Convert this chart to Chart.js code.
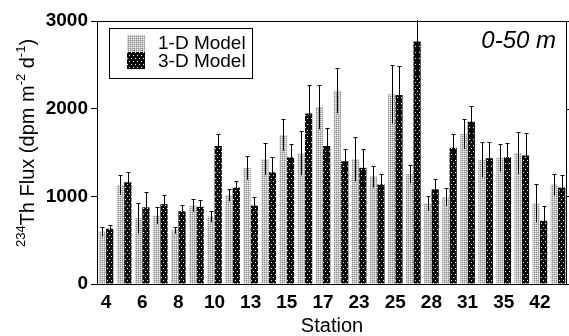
<!DOCTYPE html>
<html>
<head>
<meta charset="utf-8">
<script src="https://cdn.jsdelivr.net/npm/chart.js@4/dist/chart.umd.min.js"></script>
<style>
  html, body { margin: 0; padding: 0; background: #fff; }
  #wrap { width: 569px; height: 336px; }
</style>
</head>
<body>
<div id="wrap"><canvas id="chart" width="569" height="336"></canvas></div>
<script>
// station tick labels (only every other pair is labelled in the figure)
const stationLabels = ['4','','6','','8','','10','','13','','15','','17','','23','','25','','28','','31','','35','','42',''];
const flux1D = [600,1130,750,780,615,895,770,1015,1325,1425,1700,1490,2020,2205,1425,1225,2165,1255,920,990,1710,1415,1440,1495,920,1135];
const err1D  = [55,115,175,95,40,70,65,70,135,180,180,250,255,255,255,125,335,105,85,100,170,200,155,240,215,125];
const flux3D = [630,1160,875,910,830,880,1575,1100,895,1275,1445,1945,1575,1400,1325,1135,2155,2765,1080,1555,1850,1435,1445,1465,720,1100];
const err3D  = [45,120,180,100,75,80,135,80,95,170,150,330,200,145,220,125,330,400,115,155,180,190,160,255,170,145];
const yTicks = [0, 1000, 2000, 3000];
const seriesNames = ['1-D Model', '3-D Model'];
const depthLabel = '0-50 m';

const FONT = "'Liberation Sans', Arial, sans-serif";

// stipple fills like the printed figure
function makePattern(w, h, base, dots){
  const c = document.createElement('canvas');
  c.width = w; c.height = h;
  const g = c.getContext('2d');
  g.fillStyle = base; g.fillRect(0, 0, w, h);
  dots.forEach(d => { g.fillStyle = d[2]; g.fillRect(d[0], d[1], 1, 1); });
  return g.createPattern(c, 'repeat');
}
const ctx = document.getElementById('chart').getContext('2d');
const lightFill = makePattern(2, 2, '#c4c4c4', [[0,0,'#909090'],[1,1,'#ececec']]);
const darkFill = makePattern(4, 6, '#0c0c0c', [[1,1,'#f4f4f4'],[3,4,'#f4f4f4']]);

// error bars, frame, legend and rich y title
const extras = {
  id: 'extras',
  afterDatasetsDraw(chart){
    const c = chart.ctx, a = chart.chartArea, ys = chart.scales.y;
    const errs = [err1D, err3D];
    c.save();
    c.beginPath(); c.rect(a.left, a.top - 1, a.right - a.left, a.bottom - a.top + 1); c.clip();
    c.strokeStyle = '#000'; c.lineWidth = 1;
    chart.data.datasets.forEach((ds, i) => {
      chart.getDatasetMeta(i).data.forEach((el, j) => {
        const v = ds.data[j], e = errs[i][j];
        const x = Math.round(el.x) + 0.5;
        const yt = Math.round(ys.getPixelForValue(v + e)) + 0.5;
        const yb = ys.getPixelForValue(v - e);
        c.beginPath(); c.moveTo(x, yb); c.lineTo(x, yt);
        c.moveTo(x - 2, yt); c.lineTo(x + 2, yt); c.stroke();
      });
    });
    c.restore();
  },
  afterDraw(chart){
    const c = chart.ctx, a = chart.chartArea, ys = chart.scales.y;
    c.save();
    c.strokeStyle = '#000'; c.lineWidth = 1;
    c.beginPath();
    c.moveTo(a.left, a.top + 0.5); c.lineTo(a.right, a.top + 0.5);
    c.moveTo(a.right - 0.5, a.top); c.lineTo(a.right - 0.5, a.bottom);
    yTicks.forEach(t => {
      const y = Math.round(ys.getPixelForValue(t)) + 0.5;
      c.moveTo(a.right - 0.5, y); c.lineTo(a.right + 3, y);
    });
    c.stroke();

    // legend box
    c.strokeRect(109.5, 28.5, 143, 50);
    c.fillStyle = lightFill; c.fillRect(127, 35, 18, 17);
    c.fillStyle = darkFill; c.fillRect(127, 52, 18, 17);
    c.fillStyle = '#000';
    c.font = '19px ' + FONT;
    c.textBaseline = 'middle'; c.textAlign = 'left';
    c.fillText(seriesNames[0], 158, 44);
    c.fillText(seriesNames[1], 158, 62);

    // depth label
    c.font = 'italic 24px ' + FONT;
    c.textAlign = 'right';
    c.fillText(depthLabel, 556, 41);

    // y title with superscripts
    const parts = [['234', 1], ['Th Flux (dpm m', 0], ['-2', 1], [' d', 0], ['-1', 1], [')', 0]];
    const fMain = '20px ' + FONT, fSup = '13px ' + FONT;
    let total = 0;
    parts.forEach(p => { c.font = p[1] ? fSup : fMain; total += c.measureText(p[0]).width; });
    c.translate(28, 143);
    c.rotate(-Math.PI / 2);
    c.textAlign = 'left'; c.textBaseline = 'middle';
    let x = -total / 2;
    parts.forEach(p => {
      c.font = p[1] ? fSup : fMain;
      c.fillText(p[0], x, p[1] ? -7 : 0);
      x += c.measureText(p[0]).width;
    });
    c.restore();
  }
};

new Chart(ctx, {
  type: 'bar',
  data: {
    labels: stationLabels,
    datasets: [
      { label: seriesNames[0], data: flux1D, backgroundColor: lightFill, borderWidth: 0, categoryPercentage: 0.82, barPercentage: 0.98 },
      { label: seriesNames[1], data: flux3D, backgroundColor: darkFill, borderWidth: 0, categoryPercentage: 0.82, barPercentage: 0.98 }
    ]
  },
  options: {
    responsive: false,
    animation: false,
    devicePixelRatio: 1,
    layout: { padding: { top: 21, right: 2, left: 0, bottom: 0 } },
    plugins: { legend: { display: false }, tooltip: { enabled: false } },
    scales: {
      x: {
        afterFit(s){ s.height = 52; },
        grid: { display: true, drawOnChartArea: false, drawTicks: false },
        border: { display: true, color: '#000', width: 1 },
        ticks: {
          autoSkip: false, maxRotation: 0, padding: 7, color: '#000',
          font: { family: FONT, size: 19, weight: 'bold' },
          callback: (v, i) => stationLabels[i]
        },
        title: { display: true, text: 'Station', color: '#000', font: { family: FONT, size: 20, lineHeight: 1 }, padding: { top: 0, bottom: 0 } }
      },
      y: {
        min: 0, max: 3000,
        afterFit(s){ s.width = 97; },
        afterBuildTicks(s){ s.ticks = yTicks.map(v => ({ value: v })); },
        grid: { display: true, drawOnChartArea: false, drawTicks: true, tickLength: 6, color: '#000' },
        border: { display: true, color: '#000', width: 1 },
        ticks: { padding: 3, color: '#000', font: { family: FONT, size: 19, weight: 'bold' }, callback: v => String(v) }
      }
    }
  },
  plugins: [extras]
});
</script>
</body>
</html>
